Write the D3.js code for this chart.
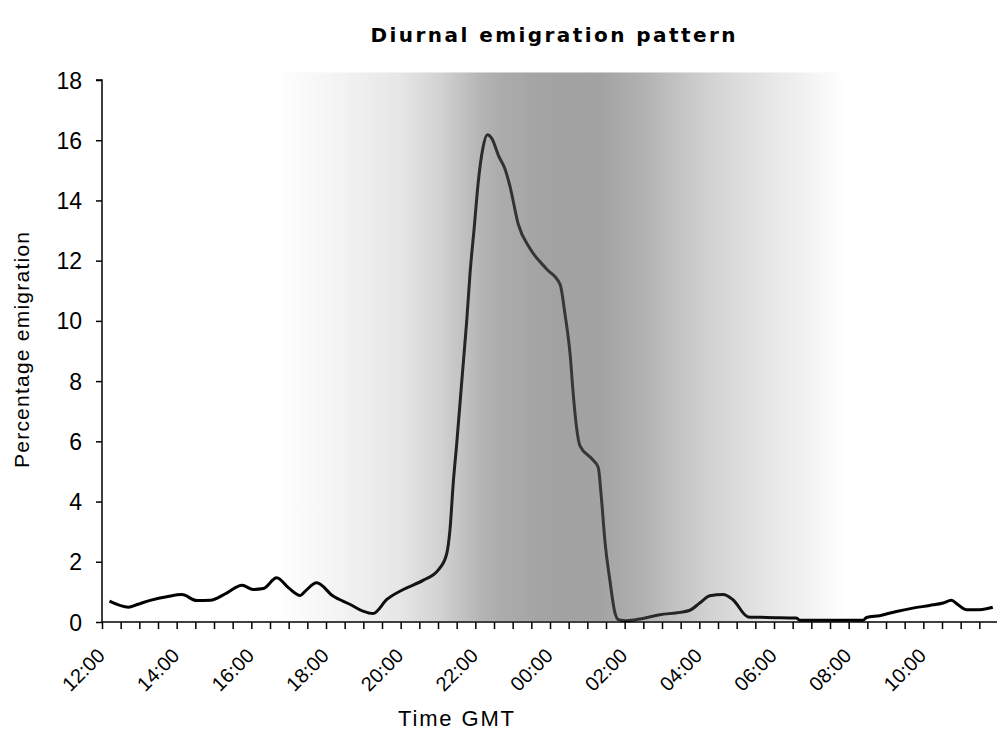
<!DOCTYPE html>
<html>
<head>
<meta charset="utf-8">
<script src="https://cdn.jsdelivr.net/npm/d3@7"></script>
<style>
  html, body { margin: 0; padding: 0; background: #fff; }
  svg { display: block; }
  text { font-family: "Liberation Sans", Arial, sans-serif; fill: #000; }
</style>
</head>
<body>
<svg id="chart" width="997" height="731"></svg>
<script>
// ---- data (hours after 12:00 GMT, percentage emigration) ----
const hoursAfterNoon = [
  0.20, 0.71, 0.94, 1.29, 1.77, 2.14, 2.54, 2.90, 3.35, 3.75, 4.05, 4.32, 4.68, 4.99,
  5.31, 5.44, 5.75, 6.19, 6.65, 6.99, 7.26, 7.63, 8.07, 8.61, 9.01, 9.23, 9.32, 9.41,
  9.50, 9.59, 9.68, 9.77, 9.86, 9.97, 10.08, 10.20, 10.32, 10.44, 10.62, 10.80, 10.93,
  11.15, 11.46, 11.91, 12.27, 12.40, 12.54, 12.62, 12.71, 12.80, 13.12, 13.29, 13.38,
  13.47, 13.61, 13.74, 13.83, 14.05, 14.45, 14.94, 15.48, 15.75, 16.01, 16.28, 16.64,
  16.90, 17.31, 17.80, 18.60, 18.69, 20.39, 20.48, 20.83, 21.28, 21.72, 22.17, 22.53,
  22.75, 22.93, 23.15, 23.51, 23.86
];
const emigrationPct = [
  0.69, 0.49, 0.58, 0.72, 0.85, 0.91, 0.71, 0.72, 0.97, 1.22, 1.08, 1.11, 1.47, 1.14,
  0.88, 1.02, 1.30, 0.86, 0.58, 0.36, 0.28, 0.75, 1.08, 1.39, 1.73, 2.25, 3.05, 4.64,
  5.90, 7.27, 8.64, 10.01, 11.61, 13.09, 14.63, 15.72, 16.18, 16.06, 15.49, 15.03, 14.46,
  13.21, 12.41, 11.72, 11.21, 10.24, 8.87, 7.61, 6.47, 5.86, 5.42, 5.14, 4.07,
  2.70, 1.33, 0.30, 0.08, 0.04, 0.11, 0.24, 0.32, 0.39, 0.63, 0.87, 0.91,
  0.74, 0.17, 0.15, 0.13, 0.06, 0.06, 0.15, 0.21, 0.35, 0.46, 0.55, 0.63,
  0.72, 0.57, 0.41, 0.41, 0.49
];
const xTickLabels = ["12:00","14:00","16:00","18:00","20:00","22:00","00:00","02:00","04:00","06:00","08:00","10:00"];
const yTicks = [0, 2, 4, 6, 8, 10, 12, 14, 16, 18];
const nightShade = [4.7, 19.9];   // hours after noon where darkness shading starts/ends
const titleText = "Diurnal emigration pattern";
const xTitle = "Time GMT";
const yTitle = "Percentage emigration";

// ---- style: shading profile (fraction across shaded band, overlay opacity) ----
const shadeStops = [
  [0.000, 0.000], [0.093, 0.062], [0.217, 0.156], [0.287, 0.281], [0.357, 0.462],
  [0.393, 0.519], [0.463, 0.569], [0.498, 0.581], [0.569, 0.575], [0.639, 0.494],
  [0.710, 0.369], [0.762, 0.281], [0.833, 0.194], [0.921, 0.094], [1.000, 0.000]
];

// ---- layout ----
const svg = d3.select("#chart");
const plotLeft = 102, plotRight = 998, plotTop = 80, plotBottom = 622;

const x = d3.scaleLinear().domain([0, 24]).range([plotLeft, plotRight]);
const y = d3.scaleLinear().domain([0, 18]).range([plotBottom, plotTop]);

const data = hoursAfterNoon.map((h, i) => ({ h, v: emigrationPct[i] }));

// line
const line = d3.line().x(d => x(d.h)).y(d => y(d.v)).curve(d3.curveMonotoneX);
svg.append("path")
  .datum(data)
  .attr("d", line)
  .attr("fill", "none")
  .attr("stroke", "#000")
  .attr("stroke-width", 3)
  .attr("stroke-linejoin", "round");

// night shading overlay (semi-transparent gradient drawn over the line)
const defs = svg.append("defs");
const grad = defs.append("linearGradient").attr("id", "night")
  .attr("x1", "0%").attr("x2", "100%").attr("y1", "0%").attr("y2", "0%");
grad.selectAll("stop").data(shadeStops).join("stop")
  .attr("offset", d => d[0])
  .attr("stop-color", "#5f5f5f")
  .attr("stop-opacity", d => d[1]);
svg.append("rect")
  .attr("x", x(nightShade[0]))
  .attr("width", x(nightShade[1]) - x(nightShade[0]))
  .attr("y", y(18.25))
  .attr("height", y(0) - y(18.25) - 1)
  .attr("fill", "url(#night)");

// y axis
const yAxis = d3.axisLeft(y).tickValues(yTicks).tickSize(6).tickPadding(14).tickFormat(d3.format("d"));
const gy = svg.append("g").attr("transform", `translate(${plotLeft},0)`).call(yAxis);
gy.select(".domain").attr("stroke", "#000").attr("stroke-width", 1.5).attr("d", `M-6,${plotTop}H0V${plotBottom}`);
gy.selectAll(".tick line").attr("stroke", "#000").attr("stroke-width", 1.5);
gy.selectAll(".tick text").style("font-size", "23px").style("font-family", '"Liberation Sans", Arial, sans-serif').attr("dy", "0.35em");

// x axis: half-hour ticks, labels every two hours
const halfHours = d3.range(0, 48.5, 1).map(i => i / 2);
const xAxis = d3.axisBottom(x).tickValues(halfHours).tickSize(7).tickFormat("");
const gx = svg.append("g").attr("transform", `translate(0,${plotBottom})`).call(xAxis);
gx.select(".domain").attr("stroke", "#000").attr("stroke-width", 1.5).attr("d", `M${plotLeft},0H${plotRight}`);
gx.selectAll(".tick line").attr("stroke", "#000").attr("stroke-width", 1.5);

svg.append("g").selectAll("text")
  .data(xTickLabels)
  .join("text")
  .attr("transform", (d, i) => `translate(${x(i * 2) + 4},${plotBottom + 35}) rotate(-45)`)
  .attr("text-anchor", "end")
  .style("font-size", "20px")
  .text(d => d);

// titles
svg.append("text")
  .attr("x", 553).attr("y", 42)
  .attr("text-anchor", "middle")
  .style("font-family", '"DejaVu Sans", Verdana, sans-serif')
  .style("font-size", "20px").style("font-weight", "bold")
  .attr("textLength", 365).attr("lengthAdjust", "spacing")
  .text(titleText);

svg.append("text")
  .attr("x", 456).attr("y", 726)
  .attr("text-anchor", "middle")
  .style("font-size", "22px")
  .attr("textLength", 116).attr("lengthAdjust", "spacing")
  .text(xTitle);

svg.append("text")
  .attr("transform", `translate(29,350) rotate(-90)`)
  .attr("text-anchor", "middle")
  .style("font-size", "21px")
  .attr("textLength", 236).attr("lengthAdjust", "spacing")
  .text(yTitle);
</script>
</body>
</html>
